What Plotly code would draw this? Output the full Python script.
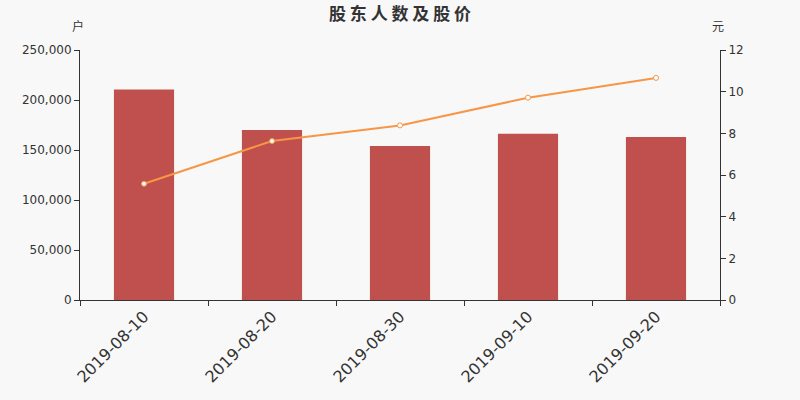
import plotly.graph_objects as go

# dados
dates = ["2019-08-10", "2019-08-20", "2019-08-30", "2019-09-10", "2019-09-20"]
holders = [210600, 170000, 154000, 166300, 163000]
price = [5.58, 7.63, 8.38, 9.71, 10.66]

left_ticks = [0, 50000, 100000, 150000, 200000, 250000]
right_ticks = [0, 2, 4, 6, 8, 10, 12]

font_family = "DejaVu Sans, Noto Sans CJK SC"

fig = go.Figure()

fig.add_trace(go.Bar(
    x=dates,
    y=holders,
    name="股东人数",
    marker=dict(color="#c0504d", line=dict(width=0)),
    width=0.47,
))

fig.add_trace(go.Scatter(
    x=dates,
    y=price,
    name="股价",
    yaxis="y2",
    mode="lines+markers",
    line=dict(color="#f79646", width=2),
    marker=dict(size=5, color="white", line=dict(color="#f79646", width=1)),
))

fig.update_layout(
    width=800,
    height=400,
    paper_bgcolor="#f8f8f8",
    plot_bgcolor="#f8f8f8",
    showlegend=False,
    margin=dict(l=80, r=80, t=50, b=100),
    font=dict(family=font_family, color="#333333", size=12),
    title=dict(
        text="<b>股 东 人 数 及 股 价</b>",
        x=0.5, xanchor="center",
        y=1 - 14 / 400, yanchor="middle",
        font=dict(size=17, color="#333333", family="Noto Sans CJK SC"),
    ),
    xaxis=dict(
        type="category",
        automargin=False,
        showline=True, linecolor="#333333", linewidth=1,
        ticks="outside", ticklen=5, tickcolor="#333333",
        tickson="boundaries",
        tickangle=-45,
        tickfont=dict(size=16, color="#333333"),
        showgrid=False,
        range=[-0.5, 4.5],
    ),
    yaxis=dict(
        automargin=False,
        range=[0, 250000],
        tickvals=left_ticks,
        tickformat=",d",
        showline=True, linecolor="#333333", linewidth=1,
        ticks="outside", ticklen=5, tickcolor="#333333",
        showgrid=False, zeroline=False,
        tickfont=dict(size=12, color="#333333"),
    ),
    yaxis2=dict(
        automargin=False,
        range=[0, 12],
        tickvals=right_ticks,
        overlaying="y",
        side="right",
        showline=True, linecolor="#333333", linewidth=1,
        ticks="outside", ticklen=5, tickcolor="#333333",
        showgrid=False, zeroline=False,
        tickfont=dict(size=12, color="#333333"),
    ),
    annotations=[
        dict(text="户", x=0, xref="paper", xanchor="center", xshift=-2,
             y=1, yref="paper", yanchor="bottom", yshift=14,
             showarrow=False, font=dict(size=12, family="Noto Sans CJK SC")),
        dict(text="元", x=1, xref="paper", xanchor="center", xshift=-2,
             y=1, yref="paper", yanchor="bottom", yshift=14,
             showarrow=False, font=dict(size=12, family="Noto Sans CJK SC")),
    ],
)

# tira a margem padrao do body para o grafico ocupar a janela toda
fig.write_html(
    "out.html",
    config={"displayModeBar": False},
    post_script="document.body.style.margin='0px';",
)
